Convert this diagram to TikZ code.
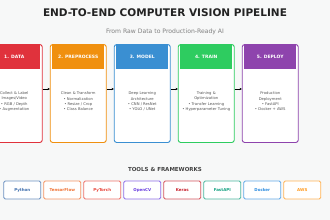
\documentclass[tikz,border=0pt]{standalone}
\usepackage{fontspec}
\setmainfont{DejaVu Sans}
\usetikzlibrary{arrows.meta}
\definecolor{bg}{HTML}{F7F8F8}
\definecolor{cA}{HTML}{E0323C}
\definecolor{cB}{HTML}{F0900F}
\definecolor{cC}{HTML}{3A8FD2}
\definecolor{cD}{HTML}{2ECC60}
\definecolor{cE}{HTML}{8E44AD}
\definecolor{txt}{HTML}{555555}
\definecolor{ttl}{HTML}{222222}
\definecolor{tPy}{HTML}{3E6EAD}
\definecolor{tTF}{HTML}{F07030}
\definecolor{tPT}{HTML}{E8443A}
\definecolor{tCV}{HTML}{6A3EE0}
\definecolor{tKe}{HTML}{C81E2A}
\definecolor{tFA}{HTML}{10A080}
\definecolor{tDo}{HTML}{2C8CE0}
\definecolor{tAW}{HTML}{FF9A1E}
\tikzset{
  stagebox/.style={draw=#1, line width=0.9pt, fill=white, rounded corners=2.5pt,
    minimum width=56pt, minimum height=98pt, inner sep=0pt},
  headbox/.style={fill=#1, minimum width=52pt, minimum height=24.5pt, inner sep=0pt,
    text=white, font=\bfseries\fontsize{4.5}{5}\selectfont},
  bodytext/.style={text=txt, align=center, font=\fontsize{3.75}{5.3}\selectfont, inner sep=0pt},
  toolbox/.style={draw=#1!75, line width=0.8pt, fill=white, rounded corners=1.5pt,
    minimum width=37pt, minimum height=18pt, inner sep=0pt, text=#1,
    font=\bfseries\fontsize{4}{5}\selectfont},
  flow/.style={-{Stealth[length=2.2pt,width=2.2pt]}, line width=0.6pt, black}
}
\begin{document}
\begin{tikzpicture}[x=1pt,y=-1pt]
\useasboundingbox (0,0) rectangle (330,220);
\fill[bg] (0,0) rectangle (330,220);
\node[font=\bfseries\fontsize{10.5}{12}\selectfont, text=ttl] (title) at (165,12.5) {END-TO-END COMPUTER VISION PIPELINE};
\node[font=\fontsize{6.1}{7}\selectfont, text=gray] (sub) at (165,31.5) {From Raw Data to Production-Ready AI};
% stages
\foreach \i/\x/\c/\h/\b in {
  1/14.25/cA/{1. DATA}/{Collect \& Label\\Images/Video\\• RGB / Depth\\• Augmentation},
  2/78.25/cB/{2. PREPROCESS}/{Clean \& Transform\\• Normalization\\• Resize / Crop\\• Class Balance},
  3/142.25/cC/{3. MODEL}/{Deep Learning\\Architecture\\• CNN / ResNet\\• YOLO / UNet},
  4/206.25/cD/{4. TRAIN}/{Training \&\\Optimization\\• Transfer Learning\\• Hyperparameter Tuning},
  5/270.25/cE/{5. DEPLOY}/{Production\\Deployment\\• FastAPI\\• Docker + AWS}}{
  \node[stagebox=\c] (s\i) at (\x,93.5) {};
  \node[headbox=\c] (h\i) at (\x,57.2) {\h};
  \node[bodytext] (b\i) at (\x,101.5) {\b};
}
\foreach \i [evaluate=\i as \j using int(\i+1)] in {1,2,3,4}{
  \draw[flow] ([yshift=4.5pt]s\i.east) -- ([yshift=4.5pt]s\j.west);
}
\node[font=\bfseries\fontsize{5.5}{6.5}\selectfont, text=ttl!85] (tools) at (165,169.5) {TOOLS \& FRAMEWORKS};
\foreach \k/\c/\n in {0/tPy/Python,1/tTF/TensorFlow,2/tPT/PyTorch,3/tCV/OpenCV,4/tKe/Keras,5/tFA/FastAPI,6/tDo/Docker,7/tAW/AWS}{
  \node[toolbox=\c] (t\k) at ({22.3+40*\k},190) {\n};
}
\end{tikzpicture}
\end{document}
